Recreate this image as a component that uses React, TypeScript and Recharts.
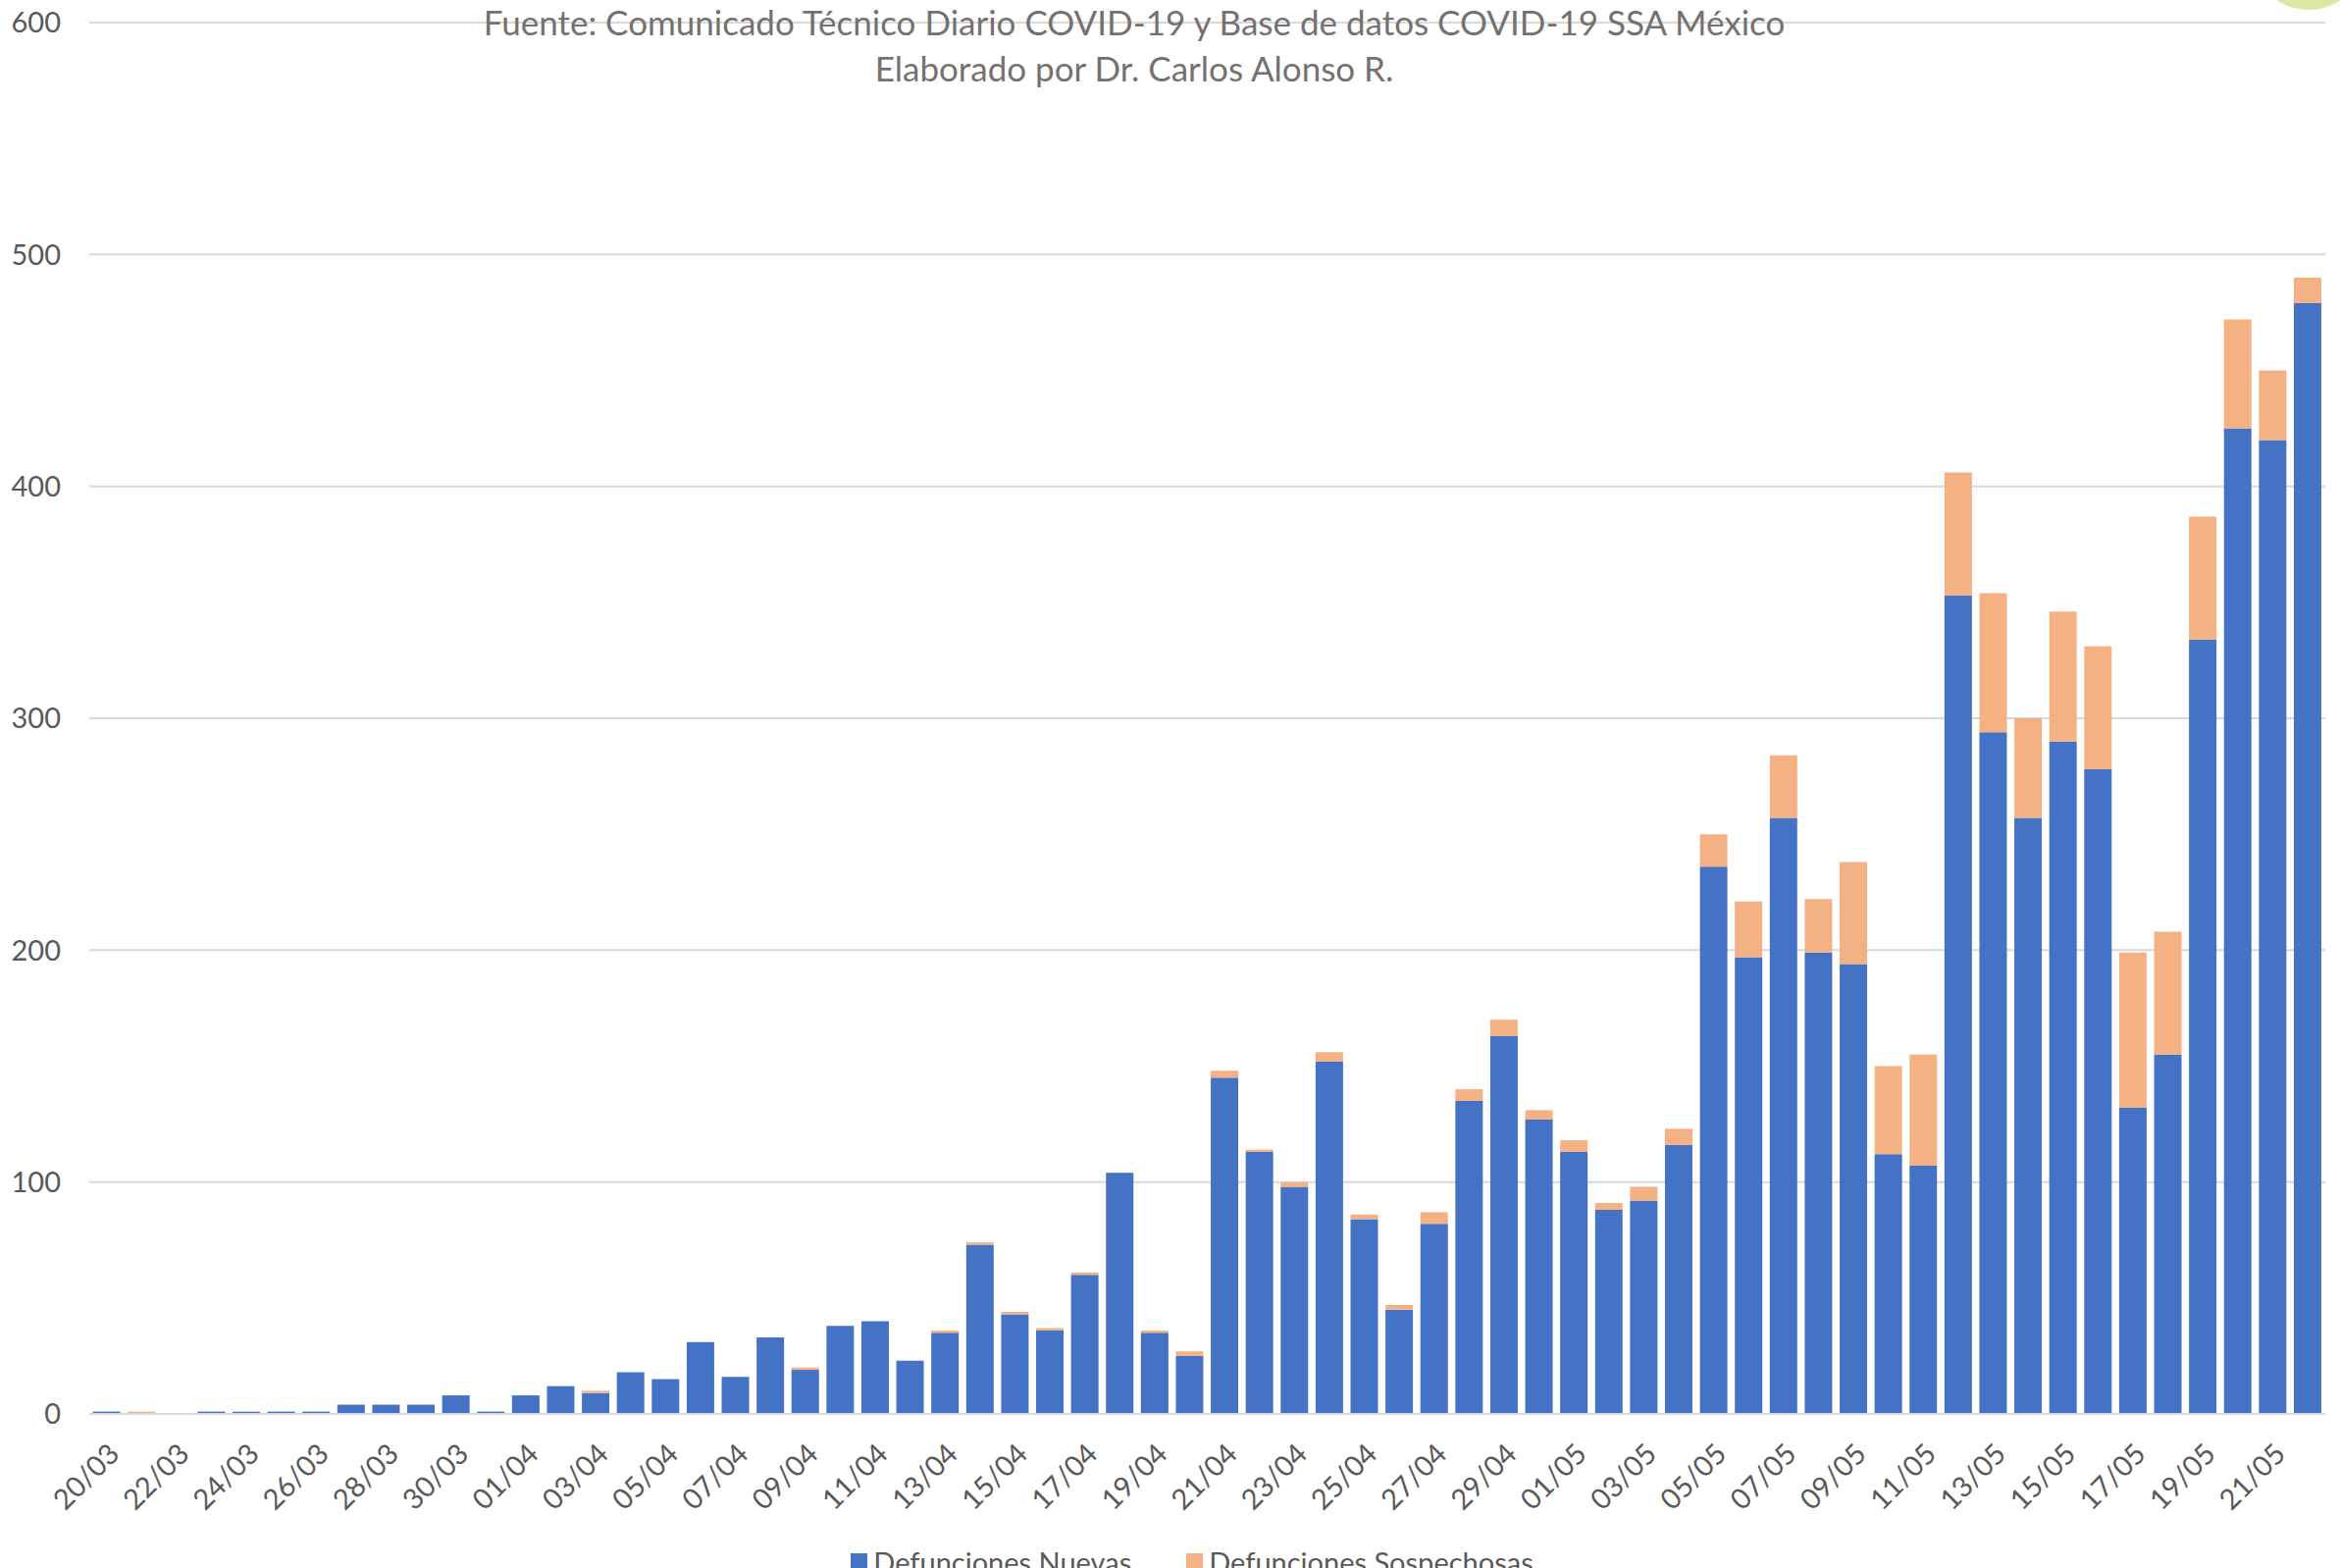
import { BarChart, Bar, CartesianGrid, XAxis, YAxis, Legend } from 'recharts';

// fechas 20/03 - 22/05
const fechas = [
  '20/03', '21/03', '22/03', '23/03', '24/03', '25/03', '26/03', '27/03', '28/03', '29/03', '30/03', '31/03',
  '01/04', '02/04', '03/04', '04/04', '05/04', '06/04', '07/04', '08/04', '09/04', '10/04',
  '11/04', '12/04', '13/04', '14/04', '15/04', '16/04', '17/04', '18/04', '19/04', '20/04',
  '21/04', '22/04', '23/04', '24/04', '25/04', '26/04', '27/04', '28/04', '29/04', '30/04',
  '01/05', '02/05', '03/05', '04/05', '05/05', '06/05', '07/05', '08/05', '09/05', '10/05',
  '11/05', '12/05', '13/05', '14/05', '15/05', '16/05', '17/05', '18/05', '19/05', '20/05',
  '21/05', '22/05',
];

const defuncionesNuevas = [
  1, 0, 0, 1, 1, 1, 1, 4, 4, 4, 8, 1,
  8, 12, 9, 18, 15, 31, 16, 33, 19, 38,
  40, 23, 35, 73, 43, 36, 60, 104, 35, 25,
  145, 113, 98, 152, 84, 45, 82, 135, 163, 127,
  113, 88, 92, 116, 236, 197, 257, 199, 194, 112,
  107, 353, 294, 257, 290, 278, 132, 155, 334, 425,
  420, 479,
];

const defuncionesSospechosas = [
  0, 1, 0, 0, 0, 0, 0, 0, 0, 0, 0, 0,
  0, 0, 1, 0, 0, 0, 0, 0, 1, 0,
  0, 0, 1, 1, 1, 1, 1, 0, 1, 2,
  3, 1, 2, 4, 2, 2, 5, 5, 7, 4,
  5, 3, 6, 7, 14, 24, 27, 23, 44, 38,
  48, 53, 60, 43, 56, 53, 67, 53, 53, 47,
  30, 11,
];

const yTicks = [0, 100, 200, 300, 400, 500, 600];

const data = fechas.map((fecha, i) => ({
  fecha,
  nuevas: defuncionesNuevas[i],
  sospechosas: defuncionesSospechosas[i],
}));

const AZUL = '#4472C4';
const NARANJA = '#F4B183';
const TEXTO = '#595959';
const FONT = 'Lato, "Open Sans", sans-serif';

const LegendContent = () => (
  <div style={{ display: 'flex', justifyContent: 'center', fontFamily: FONT, fontSize: 29, color: TEXTO }}>
    <div style={{ display: 'flex', alignItems: 'center', marginRight: 56 }}>
      <span style={{ width: 17, height: 17, background: AZUL, display: 'inline-block', marginRight: 6 }} />
      Defunciones Nuevas
    </div>
    <div style={{ display: 'flex', alignItems: 'center' }}>
      <span style={{ width: 17, height: 17, background: NARANJA, display: 'inline-block', marginRight: 6 }} />
      Defunciones Sospechosas
    </div>
  </div>
);

const App = () => {
  return (
    <div
      style={{
        position: 'absolute',
        left: 0,
        top: 0,
        width: 2385,
        height: 1598,
        overflow: 'hidden',
        background: '#fff',
        fontFamily: FONT,
      }}
    >
      <BarChart
        width={2385}
        height={1640}
        data={data}
        margin={{ top: 23, right: 15, left: 0, bottom: 0 }}
        barCategoryGap="10%"
      >
        <CartesianGrid vertical={false} stroke="#D9D9D9" strokeWidth={2} />
        <XAxis
          dataKey="fecha"
          interval={1}
          angle={-45}
          textAnchor="end"
          height={133}
          tickLine={false}
          tickSize={0}
          tickMargin={28}
          axisLine={{ stroke: '#D9D9D9', strokeWidth: 2 }}
          tick={{ fill: TEXTO, fontSize: 29, fontFamily: FONT }}
        />
        <YAxis
          domain={[0, 600]}
          ticks={yTicks}
          width={91}
          axisLine={false}
          tickLine={false}
          tickSize={0}
          tickMargin={29}
          tick={{ fill: TEXTO, fontSize: 29, fontFamily: FONT }}
        />
        <Legend verticalAlign="bottom" height={66} content={LegendContent} wrapperStyle={{ left: 30 }} />
        <Bar dataKey="nuevas" name="Defunciones Nuevas" stackId="a" fill={AZUL} isAnimationActive={false} />
        <Bar dataKey="sospechosas" name="Defunciones Sospechosas" stackId="a" fill={NARANJA} isAnimationActive={false} />
      </BarChart>

      <div
        style={{
          position: 'absolute',
          left: 0,
          width: 2312,
          top: -1,
          textAlign: 'center',
          color: '#767171',
          fontSize: 35,
          lineHeight: '47px',
          pointerEvents: 'none',
        }}
      >
        <div>Fuente: Comunicado Técnico Diario COVID-19 y Base de datos COVID-19 SSA México</div>
        <div>Elaborado por Dr. Carlos Alonso R.</div>
      </div>

      <div
        style={{
          position: 'absolute',
          left: 2353 - 59,
          top: 10 - 118,
          width: 118,
          height: 118,
          borderRadius: '50%',
          background: '#DCE7A2',
        }}
      />
    </div>
  );
};

export default App;
